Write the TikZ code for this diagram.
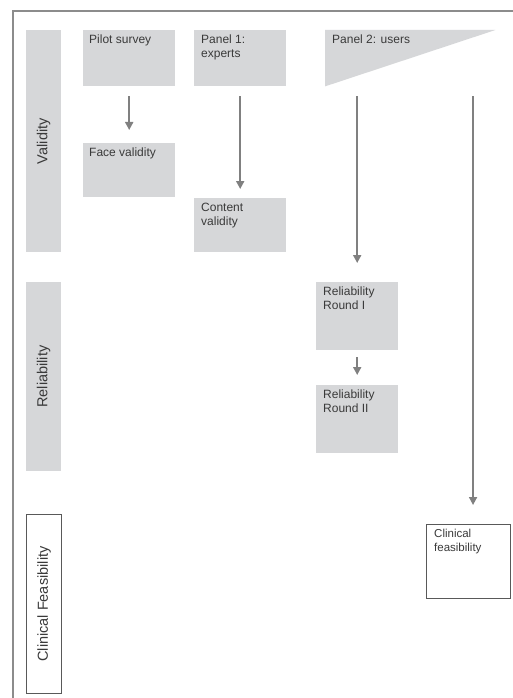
\documentclass[tikz,border=0pt]{standalone}
\usepackage{fontspec}
\setmainfont{Liberation Sans}
\usetikzlibrary{arrows.meta,calc}
\definecolor{boxgray}{HTML}{D6D7D9}
\definecolor{arrgray}{HTML}{808080}
\definecolor{framegray}{HTML}{8C8C8C}
\definecolor{txtgray}{HTML}{3A3A3A}
\begin{document}
\begin{tikzpicture}[x=1pt,y=-1pt,
  graybox/.style={fill=boxgray,draw=none,anchor=north west,inner sep=0pt},
  whitebox/.style={fill=white,draw=black!65,line width=1.1pt,anchor=north west,inner sep=0pt},
  boxtext/.style={anchor=north west,inner sep=0pt,align=left,text=txtgray,
    font=\fontsize{12}{14}\selectfont},
  sidetext/.style={rotate=90,text=txtgray,font=\fontsize{14.5}{16}\selectfont},
  arr/.style={draw=arrgray,line width=1.8pt,-{Triangle[length=8pt,width=8pt]}}]
\useasboundingbox (0,0) rectangle (512,698);
\fill[white] (0,0) rectangle (512,698);
% frame
\draw[framegray,line width=1.2pt] (520,11) -- (13,11) -- (13,705);
% side bars
\node[graybox,minimum width=35,minimum height=222] (val) at (26,30) {};
\node[sidetext] at (val.center) {Validity};
\node[graybox,minimum width=35,minimum height=189] (rel) at (26,282) {};
\node[sidetext] at (rel.center) {Reliability};
\node[whitebox,minimum width=35,minimum height=179] (clin) at (26,514) {};
\node[sidetext] at (clin.center) {Clinical Feasibility};
% boxes
\node[graybox,minimum width=92,minimum height=56] (pilot) at (83,30) {};
\node[boxtext] at ($(pilot.north west)+(6,5)$) {Pilot survey};
\node[graybox,minimum width=92,minimum height=54] (face) at (83,143) {};
\node[boxtext] at ($(face.north west)+(6,5)$) {Face validity};
\node[graybox,minimum width=92,minimum height=56] (p1) at (194,30) {};
\node[boxtext] at ($(p1.north west)+(7,5)$) {Panel 1:\\experts};
\node[graybox,minimum width=92,minimum height=54] (cont) at (194,198) {};
\node[boxtext] at ($(cont.north west)+(7,5)$) {Content\\validity};
% panel 2 triangle
\node[draw=none,anchor=north west,inner sep=0pt,minimum width=170,minimum height=56] (p2) at (325,30) {};
\fill[boxgray] (p2.north west) -- (p2.north east) -- (p2.south west) -- cycle;
\node[boxtext] at ($(p2.north west)+(7,5)$) {Panel 2: users};
\node[graybox,minimum width=82,minimum height=68] (r1) at (316,282) {};
\node[boxtext] at ($(r1.north west)+(7,5)$) {Reliability\\Round I};
\node[graybox,minimum width=82,minimum height=68] (r2) at (316,385) {};
\node[boxtext] at ($(r2.north west)+(7,5)$) {Reliability\\Round II};
\node[whitebox,minimum width=84,minimum height=74] (cf) at (426,524) {};
\node[boxtext,font=\fontsize{11.5}{14}\selectfont] at ($(cf.north west)+(8,5)$) {Clinical\\feasibility};
% arrows
\draw[arr,shorten <=10pt,shorten >=13pt] (pilot.south) -- (face.north);
\draw[arr,shorten <=10pt,shorten >=9pt] (p1.south) -- (cont.north);
\draw[arr,shorten <=10pt,shorten >=19pt] (r1.north |- p2.south) -- (r1.north);
\draw[arr,shorten <=7pt,shorten >=10pt] (r1.south) -- (r2.north);
\coordinate (cft) at ($(cf.north)+(4.5,0)$);
\draw[arr,shorten <=10pt,shorten >=19pt] (cft |- p2.south) -- (cft);
\end{tikzpicture}
\end{document}
